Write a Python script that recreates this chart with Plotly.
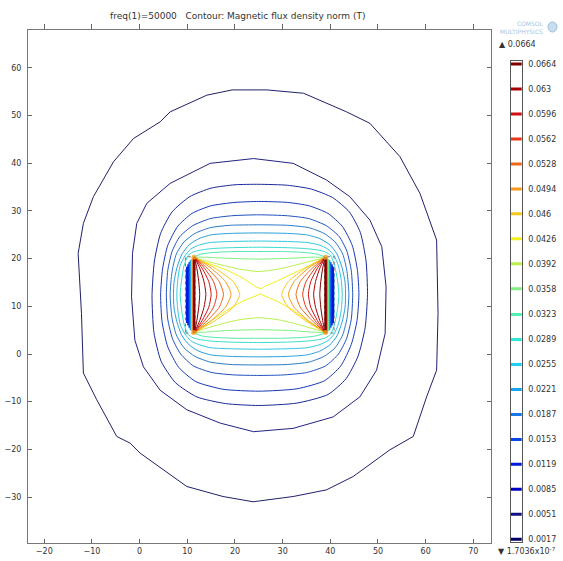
import plotly.graph_objects as go

# ---------------- data ----------------
levels = [0.0017, 0.0051, 0.0085, 0.0119, 0.0153, 0.0187, 0.0221, 0.0255, 0.0289, 0.0323,
          0.0358, 0.0392, 0.0426, 0.046, 0.0494, 0.0528, 0.0562, 0.0596, 0.063, 0.0664]
level_labels = ["0.0017", "0.0051", "0.0085", "0.0119", "0.0153", "0.0187", "0.0221", "0.0255",
                "0.0289", "0.0323", "0.0358", "0.0392", "0.0426", "0.046", "0.0494", "0.0528",
                "0.0562", "0.0596", "0.063", "0.0664"]
level_colors = ["#000068", "#101088", "#0000C0", "#0018E0", "#0848E8", "#1478EC", "#18A4EE",
                "#20D0F0", "#30E8D8", "#50F0B0", "#80F080", "#B8F048", "#F0F020", "#F8C818",
                "#F89818", "#F06818", "#E83818", "#D01010", "#A80000", "#800000"]
line_colors = ["#202068", "#222280", "#1A2A98", "#1838B8", "#2050C0", "#2878C8", "#28A0D8",
               "#30C8E0", "#38DCD0", "#50E8B0", "#80F080", "#B8F048", "#F0F020", "#F8C818",
               "#F89818", "#F06818", "#E83818", "#D01010", "#A80000", "#800000"]

x_ticks = [-20, -10, 0, 10, 20, 30, 40, 50, 60, 70]
y_ticks = [-30, -20, -10, 0, 10, 20, 30, 40, 50, 60]

# closed contours around both coils (level index 0..8)
loop1_x = [19.4, 26.7, 34.4, 43.4, 48.3, 54.6, 58.8, 62.3, 62.6, 62.3, 60.2, 57.4, 52.5, 44.8, 39.2,
           32.2, 23.8, 17.5, 9.9, 0.1, -2.0, -4.8, -9.0, -11.8, -12.2, -12.9, -11.8, -9.7, -5.5,
           -1.3, 4.3, 6.4, 14.1, 19.4]
loop1_y = [55.4, 55.4, 54.7, 50.8, 48.4, 41.4, 33.7, 23.9, 8.5, -3.4, -9.0, -17.3, -20.1, -25.7,
           -28.5, -29.9, -31.0, -29.9, -27.8, -20.8, -18.7, -17.3, -9.6, -4.0, 8.5, 21.1, 27.4,
           33.0, 40.3, 45.2, 48.7, 50.8, 54.3, 55.4]
loop2_x = [23.9, 32.2, 39.2, 44.1, 48.3, 50.8, 51.7, 51.5, 49.7, 46.2, 40.6, 32.2, 23.9, 16.9, 9.9,
           4.3, 0.8, -1.0, -1.7, -1.5, -0.6, 1.5, 6.4, 14.8, 23.9]
loop2_y = [41.0, 40.0, 36.5, 33.0, 28.1, 22.5, 14.1, 4.3, -3.4, -9.0, -13.2, -15.6, -16.3, -14.5,
           -11.7, -7.6, -2.7, 2.9, 12.0, 21.1, 27.4, 31.6, 35.8, 40.0, 41.0]
loop3_x = [25, 31, 36, 40.5, 44, 46.3, 47.5, 47.8, 47.3, 45.8, 43.3, 39.5, 33, 25, 18, 12, 7.5, 4.5,
           3.0, 2.6, 3.1, 4.4, 6.8, 10.5, 15, 20, 25]
loop3_y = [35.6, 35.4, 34.6, 32.8, 29.8, 25.5, 19.5, 12.5, 5.5, -0.5, -5.2, -8.5, -10.3, -10.8,
           -10.4, -9, -6, -1.5, 4.5, 12.3, 19.5, 25.3, 29.8, 33, 34.8, 35.5, 35.6]
loop4_x = [25, 31, 35.5, 39.5, 42.5, 44.6, 45.7, 46.0, 45.6, 44.4, 42.2, 38.8, 33, 25, 17.5, 11.8,
           8.2, 5.9, 4.7, 4.4, 4.8, 5.9, 8.0, 11.0, 15, 20, 25]
loop4_y = [32.0, 31.8, 31.1, 29.5, 26.8, 22.8, 17.5, 12.4, 7, 2, -2.5, -5.6, -7.3, -7.8, -7.4,
           -5.8, -2.8, 1.5, 6.8, 12.4, 17.8, 22.8, 26.8, 29.5, 31.1, 31.8, 32.0]
loop5_x = [25, 31, 35.5, 39.2, 41.9, 43.5, 44.4, 44.7, 44.4, 43.4, 41.7, 39.0, 35, 30, 25, 20, 15.2,
           11.3, 8.6, 6.9, 5.9, 5.6, 5.9, 6.8, 8.4, 11.1, 14.8, 19.3, 25]
loop5_y = [29.2, 29.0, 28.4, 26.9, 24.6, 21.5, 17.5, 12.4, 7.3, 3.2, 0, -2.5, -3.9, -4.4, -4.5,
           -4.4, -3.9, -2.5, 0, 3.2, 7.3, 12.4, 17.5, 21.5, 24.6, 26.9, 28.4, 29.0, 29.2]
loop6_x = [25, 31, 35.5, 38.7, 41.0, 42.6, 43.5, 43.9, 43.5, 42.6, 41.0, 38.7, 35.5, 31, 25, 19,
           14.8, 11.6, 9.3, 7.7, 6.8, 6.4, 6.8, 7.7, 9.3, 11.6, 14.8, 19, 25]
loop6_y = [27.1, 27.0, 26.5, 25.3, 23.5, 21, 17.3, 12.4, 7.5, 4, 1.3, -0.5, -1.7, -2.2, -2.3,
           -2.2, -1.7, -0.5, 1.3, 4, 7.5, 12.4, 17.3, 21, 23.5, 25.3, 26.5, 27.0, 27.1]
loop7_x = [25, 31, 35, 37.8, 39.9, 41.4, 42.5, 43.1, 43.2, 43.1, 42.5, 41.4, 39.9, 37.8, 35, 31,
           25, 19, 15, 12.4, 10.4, 8.9, 7.8, 7.2, 7.1, 7.2, 7.8, 8.9, 10.4, 12.4, 15, 19, 25]
loop7_y = [25.4, 25.3, 25.0, 24.2, 22.9, 21, 18, 15, 12.4, 9.8, 6.8, 3.8, 1.9, 0.6, -0.2, -0.5,
           -0.6, -0.5, -0.2, 0.6, 1.9, 3.8, 6.8, 9.8, 12.4, 15, 18, 21, 22.9, 24.2, 25.0, 25.3, 25.4]
loop8_x = [25, 31, 35, 37.6, 39.5, 40.8, 41.7, 42.3, 42.5, 42.3, 41.7, 40.8, 39.5, 37.6, 35, 31,
           25, 19, 15, 12.6, 10.7, 9.5, 8.5, 8.0, 7.8, 8.0, 8.5, 9.5, 10.7, 12.6, 15, 19, 25]
loop8_y = [23.7, 23.6, 23.4, 22.9, 22.0, 20.6, 18.5, 15.5, 12.4, 9.3, 6.3, 4.2, 2.8, 1.9, 1.3,
           1.1, 1.0, 1.1, 1.3, 1.9, 2.8, 4.2, 6.3, 9.3, 12.4, 15.5, 18.5, 20.6, 22.0, 22.9, 23.4,
           23.6, 23.7]
loop9_x = [25, 31, 35, 37.5, 39.0, 40.1, 40.9, 41.5, 41.8, 41.5, 40.9, 40.1, 39.0, 37.5, 35, 31,
           25, 19, 15, 12.8, 11.2, 10.1, 9.3, 8.8, 8.5, 8.8, 9.3, 10.1, 11.2, 12.8, 15, 19, 25]
loop9_y = [22.4, 22.3, 22.1, 21.8, 21.4, 20.6, 18.5, 15.5, 12.4, 9.3, 6.3, 4.2, 3.4, 3.0, 2.7,
           2.5, 2.4, 2.5, 2.7, 3.0, 3.4, 4.2, 6.3, 9.3, 12.4, 15.5, 18.5, 20.6, 21.4, 21.8, 22.1,
           22.3, 22.4]

# tip-to-tip curves between the coils (level index 9..12)
top10_x = [11.5, 13, 15.5, 20, 25, 30, 34.5, 37, 38.9]
top10_y = [20.4, 21.0, 21.3, 21.5, 21.5, 21.5, 21.3, 21.0, 20.4]
top11_x = [11.5, 14, 18, 25, 32, 36, 38.9]
top11_y = [20.3, 20.3, 20.1, 19.9, 20.1, 20.3, 20.3]
top12_x = [11.5, 14, 17.5, 21, 25, 29, 32.5, 36, 38.9]
top12_y = [20.2, 19.5, 18.6, 17.8, 17.3, 17.8, 18.6, 19.5, 20.2]
top13_x = [11.5, 14.5, 18.3, 21.7, 24.5, 25.5, 26.3, 28.8, 32.2, 35.7, 38.9]
top13_y = [20.1, 19.0, 17.6, 15.9, 14.0, 13.7, 14.2, 15.3, 16.9, 18.6, 20.1]
bot10_x = [11.5, 13, 15.5, 20, 25, 30, 34.5, 37, 38.9]
bot10_y = [4.4, 3.8, 3.5, 3.3, 3.3, 3.3, 3.5, 3.8, 4.4]
bot11_x = [11.5, 14, 18, 25, 32, 36, 38.9]
bot11_y = [4.5, 4.6, 4.9, 5.1, 4.9, 4.6, 4.5]
bot12_x = [11.5, 14, 17.5, 21, 25, 29, 32.5, 36, 38.9]
bot12_y = [4.6, 5.4, 6.4, 7.2, 7.6, 7.2, 6.4, 5.4, 4.6]
bot13_x = [11.5, 14.5, 18.3, 21.7, 25.3, 28.8, 32.2, 35.7, 38.9]
bot13_y = [4.6, 6.6, 9.2, 11.1, 12.6, 11.1, 9.2, 6.6, 4.6]

# arcs from the top tip to the bottom tip of each coil (level index 13..19)
arc_y = [20.3, 18.0, 15.2, 12.5, 9.8, 7.0, 4.5]
arcL_x = [
    [11.5, 15.8, 19.6, 21.0, 19.6, 15.8, 11.5],
    [11.5, 15.0, 18.0, 19.2, 18.0, 15.0, 11.5],
    [11.5, 14.2, 16.7, 17.6, 16.7, 14.2, 11.5],
    [11.5, 13.6, 15.5, 16.2, 15.5, 13.6, 11.5],
    [11.5, 13.1, 14.5, 15.0, 14.5, 13.1, 11.5],
    [11.5, 12.6, 13.5, 13.9, 13.5, 12.6, 11.5],
    [11.5, 12.0, 12.4, 12.6, 12.4, 12.0, 11.5],
]
arcR_x = [
    [38.9, 34.8, 31.2, 29.8, 31.2, 34.8, 38.9],
    [38.9, 35.4, 32.4, 31.2, 32.4, 35.4, 38.9],
    [38.9, 36.2, 33.7, 32.8, 33.7, 36.2, 38.9],
    [38.9, 36.8, 34.9, 34.2, 34.9, 36.8, 38.9],
    [38.9, 37.3, 35.9, 35.4, 35.9, 37.3, 38.9],
    [38.9, 37.8, 36.9, 36.5, 36.9, 37.8, 38.9],
    [38.9, 38.4, 38.0, 37.8, 38.0, 38.4, 38.9],
]
arc_levels = [13, 14, 15, 16, 17, 18, 19]

# contours inside the coil conductors
coilL_seg_x = [9.85, 10.05, 10.3, 10.5, 10.7, 10.9, 11.05, 11.18, 11.3, 11.45]
coilR_seg_x = [40.65, 40.45, 40.2, 40.0, 39.8, 39.6, 39.45, 39.32, 39.2, 39.0]
coil_seg_y0 = [8.0, 6.5, 6.0, 5.5, 5.0, 4.8, 4.7, 4.6, 4.5, 4.4]
coil_seg_y1 = [17.0, 18.3, 18.8, 19.3, 19.7, 19.9, 20.0, 20.1, 20.2, 20.3]
coil_seg_level = [5, 3, 3, 4, 6, 8, 11, 13, 16, 19]
coil_seg_width = [2, 3, 3, 2.5, 2, 1.5, 1.5, 1.5, 2, 2.5]

coilL_box_x = [9.6, 11.6, 11.6, 9.6, 9.6]
coilR_box_x = [38.8, 40.8, 40.8, 38.8, 38.8]
coil_box_y = [4.4, 4.4, 20.4, 20.4, 4.4]
tip_x = [11.4, 11.4, 39.0, 39.0]
tip_y = [20.3, 4.5, 20.3, 4.5]

# ---------------- figure ----------------
fig = go.Figure()


def add_line(xs, ys, li, shape="spline", width=1.0):
    fig.add_trace(go.Scatter(
        x=xs, y=ys, mode="lines",
        line=dict(color=line_colors[li], width=width, shape=shape, smoothing=0.6),
        hoverinfo="skip", showlegend=False, xaxis="x", yaxis="y"))


add_line(loop1_x, loop1_y, 0, shape="linear")
add_line(loop2_x, loop2_y, 1, shape="linear")
for xs, ys, li in [(loop3_x, loop3_y, 2), (loop4_x, loop4_y, 3), (loop5_x, loop5_y, 4),
                   (loop6_x, loop6_y, 5), (loop7_x, loop7_y, 6), (loop8_x, loop8_y, 7),
                   (loop9_x, loop9_y, 8)]:
    add_line(xs, ys, li)
for xs, ys, li in [(top10_x, top10_y, 9), (top11_x, top11_y, 10), (top12_x, top12_y, 11),
                   (bot10_x, bot10_y, 9), (bot11_x, bot11_y, 10), (bot12_x, bot12_y, 11)]:
    add_line(xs, ys, li)
add_line(top13_x, top13_y, 12, shape="linear")
add_line(bot13_x, bot13_y, 12, shape="linear")
for k, li in enumerate(arc_levels):
    add_line(arcL_x[k], arc_y, li)
    add_line(arcR_x[k], arc_y, li)

# coil boxes (dashed)
for bx in (coilL_box_x, coilR_box_x):
    fig.add_trace(go.Scatter(x=bx, y=coil_box_y, mode="lines",
                             line=dict(color="#707070", width=1, dash="dot"),
                             hoverinfo="skip", showlegend=False))
# conductor contours
for i in range(len(coilL_seg_x)):
    for sx in (coilL_seg_x[i], coilR_seg_x[i]):
        fig.add_trace(go.Scatter(
            x=[sx, sx], y=[coil_seg_y0[i], coil_seg_y1[i]], mode="lines",
            line=dict(color=level_colors[coil_seg_level[i]], width=coil_seg_width[i]),
            hoverinfo="skip", showlegend=False))
fig.add_trace(go.Scatter(x=tip_x, y=tip_y, mode="markers",
                         marker=dict(color="#F8A020", size=5, opacity=0.8, line=dict(width=0)),
                         hoverinfo="skip", showlegend=False))

# top ticks (outside) via overlay axis
fig.add_trace(go.Scatter(x=[0], y=[0], mode="markers", marker=dict(opacity=0),
                         xaxis="x3", yaxis="y", hoverinfo="skip", showlegend=False))

# colour legend marks
fig.add_trace(go.Scatter(
    x=[0.5] * len(levels), y=levels, mode="markers", xaxis="x2", yaxis="y2",
    marker=dict(symbol="line-ew", size=12, line=dict(width=3, color=level_colors)),
    hoverinfo="skip", showlegend=False))

# ---------------- layout ----------------
W, H = 563, 561
ml, mr, mt, mb = 28, 10, 30, 18
pw = W - ml - mr
ph = H - mt - mb


def px_x(p):
    return (p - ml) / pw


def px_y(p):
    return (H - mb - p) / ph


font = dict(family="DejaVu Sans", size=8, color="#333333")
xr = [-23.42, 73.71]
yr = [-39.65, 67.97]

fig.update_layout(
    width=W, height=H,
    margin=dict(l=ml, r=mr, t=mt, b=mb, autoexpand=False),
    paper_bgcolor="white", plot_bgcolor="white",
    font=font,
    xaxis=dict(domain=[0, px_x(491)], range=xr, tickvals=x_ticks, showgrid=False,
               zeroline=False, showline=True, linecolor="#777777", linewidth=1, mirror=True,
               ticks="inside", ticklen=4, tickcolor="#666666", tickfont=font, anchor="y"),
    xaxis3=dict(range=xr, overlaying="x", side="top", anchor="y", tickvals=x_ticks,
                showticklabels=False, ticks="outside", ticklen=5, tickcolor="#666666",
                showgrid=False, zeroline=False, showline=False),
    yaxis=dict(domain=[0, 1], range=yr, tickvals=y_ticks, showgrid=False, zeroline=False,
               showline=True, linecolor="#777777", linewidth=1, mirror="ticks",
               ticks="inside", ticklen=4, tickcolor="#666666", tickfont=font,
               ticklabelstandoff=4, anchor="x"),
    xaxis2=dict(domain=[px_x(510.7), px_x(521.7)], range=[0, 1], showgrid=False,
                zeroline=False, showticklabels=False, showline=True, mirror=True,
                linecolor="#555555", linewidth=1, anchor="y2"),
    yaxis2=dict(domain=[px_y(542), px_y(61)], range=[0.00133, 0.06681], tickvals=levels,
                ticktext=level_labels, side="right", anchor="x2", showgrid=False,
                zeroline=False, showline=True, mirror=True, linecolor="#555555",
                linewidth=1, ticks="", tickfont=font, ticklabelstandoff=4),
    showlegend=False,
)

fig.add_annotation(text="freq(1)=50000   Contour: Magnetic flux density norm (T)",
                   xref="paper", yref="paper", x=px_x(238), y=px_y(16),
                   showarrow=False, font=dict(family="DejaVu Sans", size=9, color="#333333"),
                   xanchor="center", yanchor="middle")
fig.add_annotation(text="▲ 0.0664", xref="paper", yref="paper", x=px_x(497), y=px_y(44),
                   showarrow=False, font=font, xanchor="left", yanchor="middle")
fig.add_annotation(text="▼ 1.7036x10<sup>-7</sup>", xref="paper", yref="paper",
                   x=px_x(496), y=px_y(551), showarrow=False, font=font,
                   xanchor="left", yanchor="middle")
fig.add_annotation(text="COMSOL<br>MULTIPHYSICS", xref="paper", yref="paper",
                   x=px_x(546), y=px_y(27), showarrow=False, align="right",
                   font=dict(family="DejaVu Sans", size=6, color="#A8C4DC"),
                   xanchor="right", yanchor="middle")
fig.add_shape(type="circle", xref="paper", yref="paper",
              x0=px_x(548), x1=px_x(557), y0=px_y(32), y1=px_y(22),
              line=dict(color="#9CC0DC", width=1), fillcolor="#C8DCEC")

fig.write_html("out.html", config={"displayModeBar": False},
               post_script="document.body.style.margin='0';")
